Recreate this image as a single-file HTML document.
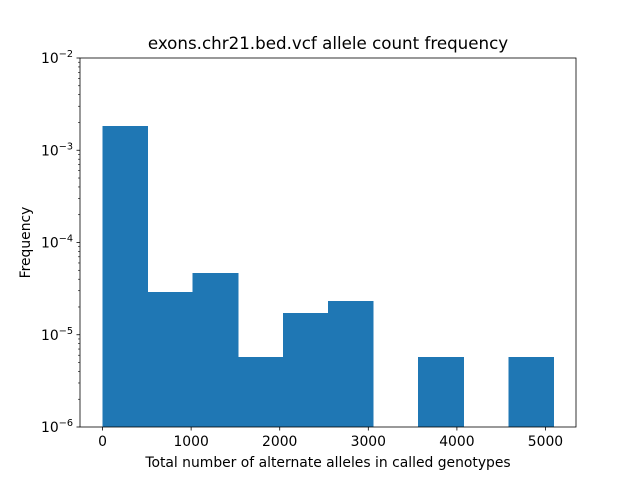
<!DOCTYPE html>
<html><head><meta charset="utf-8"><style>
html,body{margin:0;padding:0;background:#fff;}
svg{display:block;font-family:"DejaVu Sans","Liberation Sans",sans-serif;}
</style></head><body>
<svg id="chart" width="640" height="480" viewBox="0 0 640 480" xmlns="http://www.w3.org/2000/svg">
<rect x="0" y="0" width="640" height="480" fill="#fff"/>
<g id="bars" shape-rendering="crispEdges"></g>
<g id="axes"></g>
<text x="328" y="49" font-size="16.7" text-anchor="middle">exons.chr21.bed.vcf allele count frequency</text>
<text x="328" y="467" font-size="13.9" text-anchor="middle">Total number of alternate alleles in called genotypes</text>
<text transform="translate(30,242.5) rotate(-90)" font-size="13.9" text-anchor="middle">Frequency</text>
</svg>
<script>
const binEdges = [0, 509, 1018, 1527, 2036, 2545, 3054, 3563, 4072, 4581, 5090];
const frequencies = [1.83e-3, 2.9e-5, 4.68e-5, 5.76e-6, 1.72e-5, 2.32e-5, 0, 5.76e-6, 0, 5.76e-6];
const xTicks = [0, 1000, 2000, 3000, 4000, 5000];
const yTickExps = [-6, -5, -4, -3, -2];

const L = 80, R = 576, T = 58, B = 427;
const xMin = -254.5, xMax = 5344.5;
const yMinE = -6, yMaxE = -2;
function xs(v){ return L + (v - xMin) / (xMax - xMin) * (R - L); }
function ys(v){ return B - (Math.log10(v) - yMinE) / (yMaxE - yMinE) * (B - T); }

const NS = "http://www.w3.org/2000/svg";
function mk(tag, attrs, parent){
  const e = document.createElementNS(NS, tag);
  for (const k in attrs) e.setAttribute(k, attrs[k]);
  parent.appendChild(e);
  return e;
}
const bars = document.getElementById('bars');
const axes = document.getElementById('axes');

frequencies.forEach((f, i) => {
  if (!(f > 0)) return;
  const x0 = xs(binEdges[i]), x1 = xs(binEdges[i+1]);
  const y = Math.max(T, ys(f));
  const r = mk('rect', {x: x0, y: y, width: x1 - x0 + 0.5, height: B - y, fill: '#1f77b4'}, bars);
  
  
});

const frame = mk('rect', {x: L, y: T, width: R - L, height: B - T, fill: 'none', stroke: '#000', 'stroke-width': 0.8}, axes);



xTicks.forEach(v => {
  const x = xs(v);
  const t = mk('line', {x1: x, x2: x, y1: B, y2: B + 3.5, stroke: '#000', 'stroke-width': 0.8}, axes);
  
  
  const lb = mk('text', {x: x, y: B + 19, 'font-size': 13.9, 'text-anchor': 'middle'}, axes);
  lb.textContent = String(v);
  
  
});

yTickExps.forEach((e, idx) => {
  const y = ys(Math.pow(10, e));
  const t = mk('line', {x1: L - 3.5, x2: L, y1: y, y2: y, stroke: '#000', 'stroke-width': 0.8}, axes);
  
  
  const lb = mk('text', {x: L - 7, y: y + 5, 'font-size': 13.9, 'text-anchor': 'end'}, axes);
  lb.innerHTML = '10<tspan dy="-6" font-size="9.7">\u2212' + Math.abs(e) + '</tspan>';
  
  
  if (idx < yTickExps.length - 1) {
    for (let m = 2; m <= 9; m++) {
      const ym = ys(m * Math.pow(10, e));
      const mt = mk('line', {x1: L - 2, x2: L, y1: ym, y2: ym, stroke: '#000', 'stroke-width': 0.6}, axes);
      
      
    }
  }
});
</script>
</body></html>
